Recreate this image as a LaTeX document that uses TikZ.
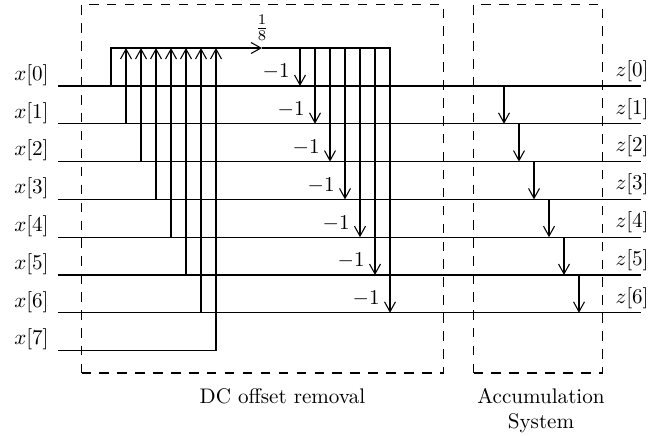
\documentclass[tikz,border=0pt]{standalone}
\usepackage{tikz}
\usetikzlibrary{arrows.meta,positioning,calc}

\begin{document}
\begin{tikzpicture}[
  wire/.style={line width=0.5pt},
  arr/.style={-{Straight Barb[length=4.7pt,width=5.2pt]},line width=0.5pt},
  blk/.style={draw,dash pattern=on 4.5pt off 4pt,line width=0.5pt,inner sep=0pt,anchor=north west},
  lbl/.style={inner sep=0pt},
]
\useasboundingbox (0,1.433) rectangle (10.85,-5.833);

% dashed blocks
\node[blk,minimum width=6.033cm,minimum height=6.142cm] (dcbox) at (1.35,1.367) {};
\node[blk,minimum width=2.15cm,minimum height=6.142cm] (accbox) at (7.883,1.367) {};

% input and output wires
\foreach \k in {0,...,6} {
  \coordinate (in\k) at (0.967,-0.63*\k);
  \coordinate (out\k) at (10.683,-0.63*\k);
  \draw[wire] (in\k) -- (out\k);
  \node[lbl,anchor=south east] (x\k) at ($(in\k)+(-0.15,0)$) {$x[\k]$};
  \node[lbl,anchor=south east] (z\k) at ($(out\k)+(0.133,0.067)$) {$z[\k]$};
}
\coordinate (in7) at (0.967,-4.41);
\coordinate (end7) at (3.6,-4.41);
\draw[wire] (in7) -- (end7);
\node[lbl,anchor=south east] (x7) at ($(in7)+(-0.15,0)$) {$x[7]$};

% mean: sum of all inputs times 1/8
\coordinate (top) at (1.85,0.633);
\coordinate (mid) at (4.367,0.633);
\coordinate (topend) at (6.517,0.633);
\draw[arr] (in0 -| top) |- (mid);
\draw[wire] (mid) -- (topend);
\node[above] (gain) at (mid) {$\frac{1}{8}$};

\foreach \k in {1,...,7} {
  \coordinate (up\k) at ($(top)+(0.25*\k,0)$);
  \draw[arr] (in\k -| up\k) -- (up\k);
}

% subtract the mean
\foreach \k in {0,...,6} {
  \coordinate (dn\k) at ($(top)+(3.15+0.25*\k,0)$);
  \draw[arr] (dn\k) -- (in\k -| dn\k);
  \node[left] (m\k) at ($(in\k -| dn\k)+(-0.05,0.233)$) {$-1$};
}

% accumulation
\foreach \k [evaluate=\k as \n using int(\k+1)] in {0,...,5} {
  \coordinate (acc\k) at (8.4+0.25*\k,-0.63*\k);
  \draw[arr] (acc\k) -- (in\n -| acc\k);
}

\node[lbl,anchor=north] (dclabel) at (4.708,-5.033) {DC offset removal};
\node[lbl,anchor=north,align=center] (acclabel) at (9.017,-5.033) {Accumulation\\System};
\end{tikzpicture}
\end{document}
